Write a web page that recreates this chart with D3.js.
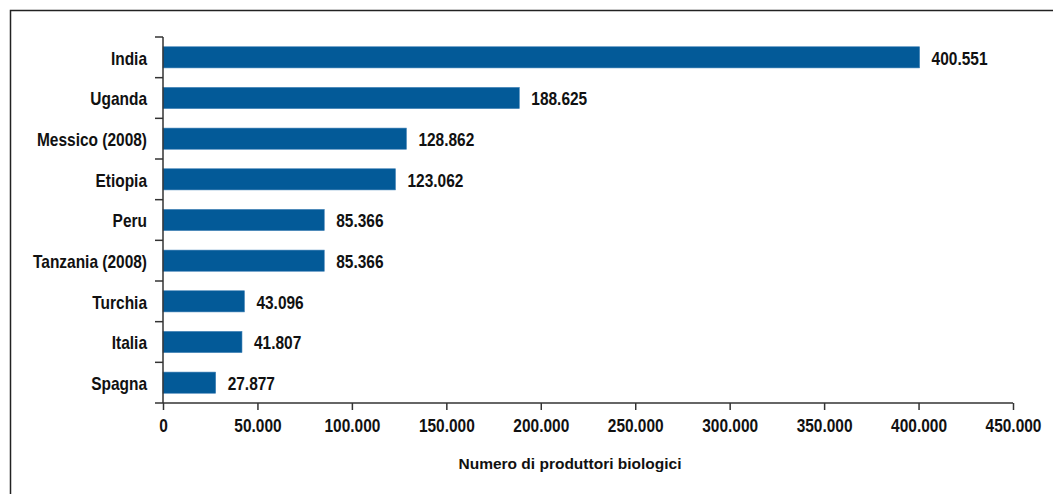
<!DOCTYPE html>
<html>
<head>
<meta charset="utf-8">
<script src="https://cdn.jsdelivr.net/npm/d3@7"></script>
<style>
  body { margin: 0; background: #fff; }
  text { font-family: "Liberation Sans", Arial, sans-serif; font-weight: bold; fill: #111; }
</style>
</head>
<body>
<svg id="canvas" width="1053" height="494"></svg>
<script>
(function () {
    // data
    var countries = ["India", "Uganda", "Messico (2008)", "Etiopia", "Peru", "Tanzania (2008)", "Turchia", "Italia", "Spagna"];
    var producers = [400551, 188625, 128862, 123062, 85366, 85366, 43096, 41807, 27877];
    var xTicks = [0, 50000, 100000, 150000, 200000, 250000, 300000, 350000, 400000, 450000];
    var axisTitle = "Numero di produttori biologici";

    var fmt = function (v) { return d3.format(",")(v).replace(/,/g, "."); };
    var squeeze = 0.86; // condensed look

    const svg = d3.select("#canvas");

    // outer frame
    svg.append("rect")
        .attr("x", 10.5).attr("y", 10.5)
        .attr("width", 1060).attr("height", 500)
        .attr("fill", "none").attr("stroke", "#222").attr("stroke-width", 1.5);

    var left = 163, right = 1013, top = 37, bottom = 403;

    var x = d3.scaleLinear().domain([0, 450000]).range([left, right]);
    var y = d3.scaleBand().domain(countries).range([top, bottom]).paddingInner(0.48).paddingOuter(0.24);

    var data = countries.map(function (c, i) { return { country: c, value: producers[i] }; });

    // bars
    svg.append("g")
        .selectAll("rect")
        .data(data)
        .join("rect")
        .attr("x", x(0))
        .attr("y", function (d) { return y(d.country); })
        .attr("width", function (d) { return x(d.value) - x(0); })
        .attr("height", y.bandwidth())
        .attr("fill", "#035a98")
        .attr("stroke", "#3d7fb5")
        .attr("stroke-width", 0.6);

    // value labels
    svg.append("g")
        .selectAll("text")
        .data(data)
        .join("text")
        .attr("transform", function (d) {
            return "translate(" + (x(d.value) + 12) + "," + (y(d.country) + y.bandwidth() / 2 + 1) + ") scale(" + squeeze + ",1)";
        })
        .attr("dy", "0.35em")
        .style("font-size", "18px")
        .text(function (d) { return fmt(d.value); });

    // y axis: ticks at category boundaries
    var yAxis = svg.append("g");
    yAxis.append("line")
        .attr("x1", left).attr("x2", left)
        .attr("y1", top).attr("y2", bottom)
        .attr("stroke", "#333").attr("stroke-width", 1.5);
    var step = y.step();
    var bounds = d3.range(countries.length).map(function (i) { return top + i * step; });
    yAxis.selectAll("line.tk")
        .data(bounds)
        .join("line")
        .attr("class", "tk")
        .attr("x1", left - 8).attr("x2", left)
        .attr("y1", function (d) { return d; }).attr("y2", function (d) { return d; })
        .attr("stroke", "#333").attr("stroke-width", 1.5);
    yAxis.selectAll("text")
        .data(countries)
        .join("text")
        .attr("transform", function (d) {
            return "translate(147," + (y(d) + y.bandwidth() / 2 + 1) + ") scale(" + squeeze + ",1)";
        })
        .attr("dy", "0.35em")
        .attr("text-anchor", "end")
        .style("font-size", "18px")
        .text(function (d) { return d; });

    // x axis
    var xAxis = svg.append("g")
        .attr("transform", "translate(0," + bottom + ")")
        .call(d3.axisBottom(x).tickValues(xTicks).tickSize(7).tickPadding(9).tickFormat(fmt));
    xAxis.select(".domain").remove();
    xAxis.insert("line", ":first-child")
        .attr("x1", left - 8).attr("x2", right)
        .attr("stroke", "#333").attr("stroke-width", 1.5);
    xAxis.selectAll(".tick line").attr("stroke", "#333").attr("stroke-width", 1.5);
    xAxis.selectAll(".tick text")
        .attr("transform", "scale(" + squeeze + ",1)")
        .style("font-size", "18px")
        .style("font-family", "'Liberation Sans', Arial, sans-serif")
        .attr("fill", "#111");

    svg.append("text")
        .attr("x", 570)
        .attr("y", 469)
        .attr("text-anchor", "middle")
        .style("font-size", "15.5px")
        .text(axisTitle);
})();
</script>
</body>
</html>
